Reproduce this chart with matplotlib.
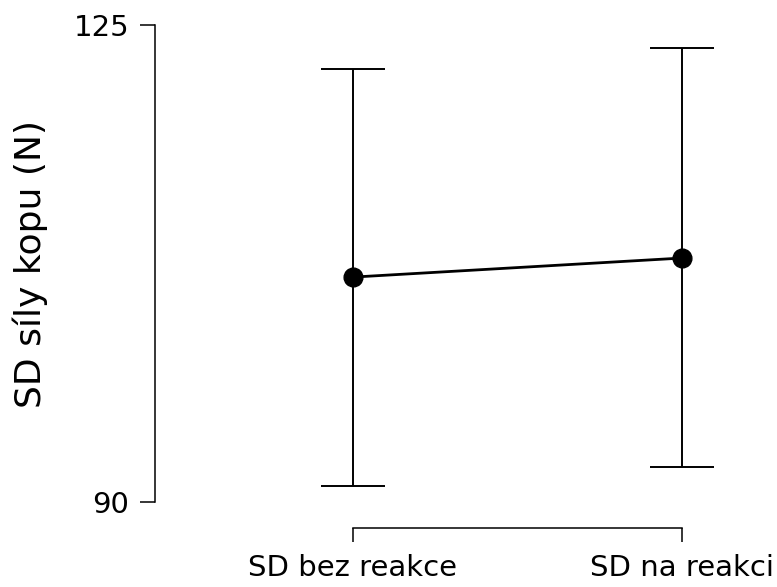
import matplotlib
matplotlib.use("Agg")
import matplotlib.pyplot as plt

plt.rcParams.update({
    "font.family": ["DejaVu Sans"],
    "font.size": 21,
})

conditions = ["SD bez reakce", "SD na reakci"]
means = [106.5, 107.9]
ci_lower = [91.15, 92.6]
ci_upper = [121.8, 123.3]
y_ticks = [90, 125]

fig = plt.figure(figsize=(7.77, 5.87), dpi=100)
# axes box in pixels: left 155, top 25, bottom 502, right 764
W, H = 777, 587
ax = fig.add_axes([155 / W, 1 - 502 / H, (764 - 155) / W, (502 - 25) / H])

xs = list(range(len(conditions)))
err_lo = [m - lo for m, lo in zip(means, ci_lower)]
err_hi = [hi - m for m, hi in zip(means, ci_upper)]

ax.errorbar(xs, means, yerr=[err_lo, err_hi], fmt="none", ecolor="black",
            elinewidth=1.4, capsize=23, capthick=1.4, zorder=2)
ax.plot(xs, means, color="black", linewidth=2.0, marker="o", markersize=13.5,
        markerfacecolor="black", markeredgecolor="black", zorder=3)

ax.set_xlim(-0.6, 1.25)
ax.set_ylim(90, 125)
ax.set_yticks(y_ticks)
ax.set_xticks(xs)
ax.set_xticklabels(conditions)
ax.set_ylabel("SD síly kopu (N)", fontsize=26)
ax.yaxis.set_label_coords(-0.175, 0.5)

for side in ("top", "right"):
    ax.spines[side].set_visible(False)
ax.spines["left"].set_bounds(90, 125)
ax.spines["bottom"].set_bounds(0, 1)
ax.spines["bottom"].set_position(("outward", 18.5))
for side in ("left", "bottom"):
    ax.spines[side].set_linewidth(1.1)

ax.tick_params(axis="both", direction="out", length=10.5, width=1.1,
               colors="black", labelsize=21)
ax.tick_params(axis="x", length=10, pad=9)
ax.tick_params(axis="y", pad=8)
ax.minorticks_off()

fig.savefig("out.png", dpi=100, facecolor="white")
